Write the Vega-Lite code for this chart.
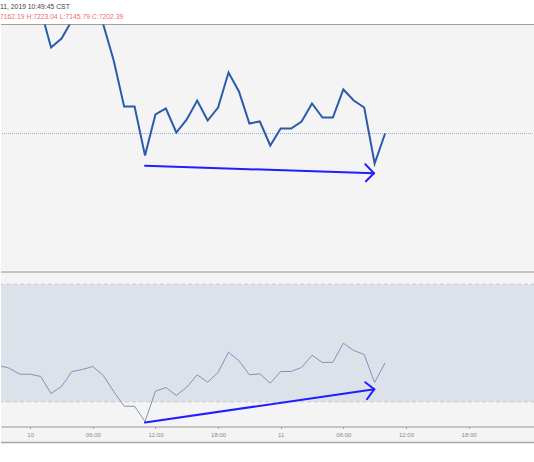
{
  "$schema": "https://vega.github.io/schema/vega-lite/v6.json",
  "background": "white",
  "padding": {"top": 3.5, "left": 0, "right": 0, "bottom": 0},
  "spacing": 0,
  "title": {
    "text": "11, 2019 10:49:45 CST",
    "subtitle": "7162.19 H:7223.04 L:7145.79 C:7202.39",
    "anchor": "start",
    "frame": "bounds",
    "font": "Liberation Sans",
    "fontSize": 6.8,
    "fontWeight": "normal",
    "color": "#444444",
    "subtitleFont": "Liberation Sans",
    "subtitleFontSize": 6.8,
    "subtitleFontWeight": "normal",
    "subtitleColor": "#f26b6b",
    "subtitlePadding": 3.2,
    "offset": 3.7
  },
  "config": {"view": {"stroke": null}, "concat": {"spacing": 0}},
  "resolve": {"scale": {"x": "independent", "y": "independent"}},
  "datasets": {
    "bars": [
      {"t": "2019-12-09T21:00:00Z", "close": 7387.3, "rsi": 42.35},
      {"t": "2019-12-09T22:00:00Z", "close": 7380.6, "rsi": 41.43},
      {"t": "2019-12-09T23:00:00Z", "close": 7373.9, "rsi": 39.39},
      {"t": "2019-12-10T00:00:00Z", "close": 7383.3, "rsi": 39.39},
      {"t": "2019-12-10T01:00:00Z", "close": 7368.6, "rsi": 38.61},
      {"t": "2019-12-10T02:00:00Z", "close": 7317.6, "rsi": 32.82},
      {"t": "2019-12-10T03:00:00Z", "close": 7329.7, "rsi": 35.2},
      {"t": "2019-12-10T04:00:00Z", "close": 7353.8, "rsi": 40.31},
      {"t": "2019-12-10T05:00:00Z", "close": 7369.9, "rsi": 40.99},
      {"t": "2019-12-10T06:00:00Z", "close": 7364.5, "rsi": 42.01},
      {"t": "2019-12-10T07:00:00Z", "close": 7348.5, "rsi": 38.95},
      {"t": "2019-12-10T08:00:00Z", "close": 7300.2, "rsi": 33.5},
      {"t": "2019-12-10T09:00:00Z", "close": 7238.6, "rsi": 28.5},
      {"t": "2019-12-10T10:00:00Z", "close": 7238.6, "rsi": 28.5},
      {"t": "2019-12-10T11:00:00Z", "close": 7172.9, "rsi": 23.3},
      {"t": "2019-12-10T12:00:00Z", "close": 7227.9, "rsi": 33.61},
      {"t": "2019-12-10T13:00:00Z", "close": 7235.9, "rsi": 34.86},
      {"t": "2019-12-10T14:00:00Z", "close": 7203.7, "rsi": 32.14},
      {"t": "2019-12-10T15:00:00Z", "close": 7221.2, "rsi": 34.97},
      {"t": "2019-12-10T16:00:00Z", "close": 7246.6, "rsi": 39.18},
      {"t": "2019-12-10T17:00:00Z", "close": 7219.8, "rsi": 36.67},
      {"t": "2019-12-10T18:00:00Z", "close": 7237.2, "rsi": 39.97},
      {"t": "2019-12-10T19:00:00Z", "close": 7284.1, "rsi": 46.87},
      {"t": "2019-12-10T20:00:00Z", "close": 7258.7, "rsi": 43.95},
      {"t": "2019-12-10T21:00:00Z", "close": 7215.8, "rsi": 39.18},
      {"t": "2019-12-10T22:00:00Z", "close": 7218.5, "rsi": 39.52},
      {"t": "2019-12-10T23:00:00Z", "close": 7186.3, "rsi": 36.33},
      {"t": "2019-12-11T00:00:00Z", "close": 7209.1, "rsi": 40.31},
      {"t": "2019-12-11T01:00:00Z", "close": 7209.1, "rsi": 40.31},
      {"t": "2019-12-11T02:00:00Z", "close": 7218.5, "rsi": 41.67},
      {"t": "2019-12-11T03:00:00Z", "close": 7242.6, "rsi": 45.85},
      {"t": "2019-12-11T04:00:00Z", "close": 7223.8, "rsi": 43.37},
      {"t": "2019-12-11T05:00:00Z", "close": 7223.8, "rsi": 43.47},
      {"t": "2019-12-11T06:00:00Z", "close": 7261.4, "rsi": 49.93},
      {"t": "2019-12-11T07:00:00Z", "close": 7246.6, "rsi": 47.45},
      {"t": "2019-12-11T08:00:00Z", "close": 7237.2, "rsi": 46.09},
      {"t": "2019-12-11T09:00:00Z", "close": 7162.19, "rsi": 36.56},
      {"t": "2019-12-11T10:00:00Z", "close": 7202.39, "rsi": 43.27}
    ],
    "priceArrow": [
      {"seg": "shaft", "t": "2019-12-10T11:00:00Z", "v": 7159.1},
      {"seg": "shaft", "t": "2019-12-11T08:56:00Z", "v": 7149.2},
      {"seg": "head1", "t": "2019-12-11T08:06:00Z", "v": 7161.3},
      {"seg": "head1", "t": "2019-12-11T08:56:00Z", "v": 7149.2},
      {"seg": "head2", "t": "2019-12-11T08:10:00Z", "v": 7138.5},
      {"seg": "head2", "t": "2019-12-11T08:56:00Z", "v": 7149.2}
    ],
    "rsiArrow": [
      {"seg": "shaft", "t": "2019-12-10T11:00:00Z", "v": 22.96},
      {"seg": "shaft", "t": "2019-12-11T08:58:00Z", "v": 34.29},
      {"seg": "head1", "t": "2019-12-11T08:06:00Z", "v": 36.67},
      {"seg": "head1", "t": "2019-12-11T08:58:00Z", "v": 34.29},
      {"seg": "head2", "t": "2019-12-11T08:16:00Z", "v": 30.88},
      {"seg": "head2", "t": "2019-12-11T08:58:00Z", "v": 34.29}
    ]
  },
  "vconcat": [
    {
      "width": 534,
      "height": 246,
      "view": {"fill": "#f4f4f4", "stroke": null},
      "layer": [
        {
          "data": {"values": [{"edge": 7348.45}]},
          "mark": {"type": "rule", "color": "#a0a0a0", "strokeWidth": 1},
          "encoding": {
            "y": {"field": "edge", "type": "quantitative", "scale": {"domain": [7018.81, 7348.45], "zero": false, "nice": false}, "axis": null}
          }
        },
        {
          "data": {"values": [{"close": 7202.39}]},
          "mark": {"type": "rule", "color": "#9ab0d8", "strokeWidth": 1, "strokeDash": [1, 1]},
          "encoding": {
            "y": {"field": "close", "type": "quantitative", "scale": {"domain": [7018.81, 7348.45], "zero": false, "nice": false}, "axis": null}
          }
        },
        {
          "data": {"name": "bars"},
          "mark": {"type": "line", "color": "#2a5caa", "strokeWidth": 2, "clip": true},
          "encoding": {
            "x": {"field": "t", "type": "temporal", "scale": {"type": "utc", "nice": false, "domain": [{"year": 2019, "month": 12, "date": 9, "hours": 21, "minutes": 12, "seconds": 7, "utc": true}, {"year": 2019, "month": 12, "date": 12, "hours": 0, "minutes": 21, "seconds": 50, "utc": true}]}, "axis": null},
            "y": {"field": "close", "type": "quantitative", "scale": {"domain": [7018.81, 7348.45], "zero": false, "nice": false}, "axis": null}
          }
        },
        {
          "data": {"name": "priceArrow"},
          "mark": {"type": "line", "color": "#1f1fff", "strokeWidth": 2, "strokeCap": "round"},
          "encoding": {
            "x": {"field": "t", "type": "temporal", "scale": {"type": "utc", "nice": false, "domain": [{"year": 2019, "month": 12, "date": 9, "hours": 21, "minutes": 12, "seconds": 7, "utc": true}, {"year": 2019, "month": 12, "date": 12, "hours": 0, "minutes": 21, "seconds": 50, "utc": true}]}, "axis": null},
            "y": {"field": "v", "type": "quantitative", "scale": {"domain": [7018.81, 7348.45], "zero": false, "nice": false}, "axis": null},
            "detail": {"field": "seg"}
          }
        }
      ]
    },
    {
      "width": 534,
      "height": 172,
      "view": {"fill": "#f4f4f4", "stroke": null},
      "layer": [
        {
          "data": {"values": [{"hi": 70, "lo": 30}]},
          "mark": {"type": "rect", "color": "#dde2ea"},
          "encoding": {
            "y": {"field": "hi", "type": "quantitative", "scale": {"domain": [15.82, 74.32], "zero": false, "nice": false}, "axis": null},
            "y2": {"field": "lo"}
          }
        },
        {
          "data": {"values": [{"level": 70}, {"level": 30}]},
          "mark": {"type": "rule", "color": "#c6c9ce", "strokeWidth": 1, "strokeDash": [4, 3]},
          "encoding": {
            "y": {"field": "level", "type": "quantitative", "scale": {"domain": [15.82, 74.32], "zero": false, "nice": false}, "axis": null}
          }
        },
        {
          "data": {"values": [{"edge": 74.15}]},
          "mark": {"type": "rule", "color": "#c4c4c4", "strokeWidth": 2},
          "encoding": {
            "y": {"field": "edge", "type": "quantitative", "scale": {"domain": [15.82, 74.32], "zero": false, "nice": false}, "axis": null}
          }
        },
        {
          "data": {"values": [{"edge": 16.16}]},
          "mark": {"type": "rule", "color": "#a8a8a8", "strokeWidth": 1.5},
          "encoding": {
            "y": {"field": "edge", "type": "quantitative", "scale": {"domain": [15.82, 74.32], "zero": false, "nice": false}, "axis": null}
          }
        },
        {
          "data": {"name": "bars"},
          "mark": {"type": "line", "color": "#7c93bd", "strokeWidth": 1, "clip": true},
          "encoding": {
            "x": {
              "field": "t", "type": "temporal",
              "scale": {"type": "utc", "nice": false, "domain": [{"year": 2019, "month": 12, "date": 9, "hours": 21, "minutes": 12, "seconds": 7, "utc": true}, {"year": 2019, "month": 12, "date": 12, "hours": 0, "minutes": 21, "seconds": 50, "utc": true}]},
              "axis": {
                "orient": "bottom", "offset": -17, "title": null, "grid": false,
                "values": [
                  {"year": 2019, "month": 12, "date": 10, "hours": 0, "utc": true},
                  {"year": 2019, "month": 12, "date": 10, "hours": 6, "utc": true},
                  {"year": 2019, "month": 12, "date": 10, "hours": 12, "utc": true},
                  {"year": 2019, "month": 12, "date": 10, "hours": 18, "utc": true},
                  {"year": 2019, "month": 12, "date": 11, "hours": 0, "utc": true},
                  {"year": 2019, "month": 12, "date": 11, "hours": 6, "utc": true},
                  {"year": 2019, "month": 12, "date": 11, "hours": 12, "utc": true},
                  {"year": 2019, "month": 12, "date": 11, "hours": 18, "utc": true}
                ],
                "labelExpr": "utchours(datum.value) == 0 ? utcFormat(datum.value, '%-d') : utcFormat(datum.value, '%H:%M')",
                "labelFont": "Liberation Sans", "labelFontSize": 6, "labelColor": "#8a8a8a",
                "labelPadding": 3, "labelOverlap": false, "labelFlush": false,
                "tickSize": 2, "tickColor": "#9a9a9a", "tickWidth": 1,
                "domainColor": "#b5b5b5", "domainWidth": 1.5
              }
            },
            "y": {"field": "rsi", "type": "quantitative", "scale": {"domain": [15.82, 74.32], "zero": false, "nice": false}, "axis": null}
          }
        },
        {
          "data": {"name": "rsiArrow"},
          "mark": {"type": "line", "color": "#1f1fff", "strokeWidth": 2, "strokeCap": "round"},
          "encoding": {
            "x": {"field": "t", "type": "temporal", "scale": {"type": "utc", "nice": false, "domain": [{"year": 2019, "month": 12, "date": 9, "hours": 21, "minutes": 12, "seconds": 7, "utc": true}, {"year": 2019, "month": 12, "date": 12, "hours": 0, "minutes": 21, "seconds": 50, "utc": true}]}},
            "y": {"field": "v", "type": "quantitative", "scale": {"domain": [15.82, 74.32], "zero": false, "nice": false}, "axis": null},
            "detail": {"field": "seg"}
          }
        }
      ]
    }
  ]
}
